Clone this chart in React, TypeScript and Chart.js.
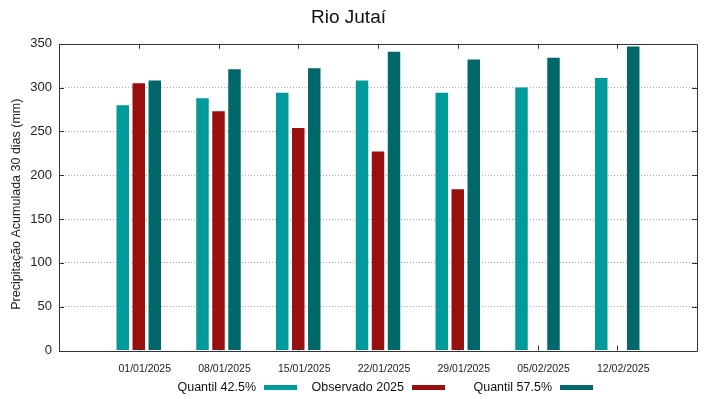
import React, { useEffect, useRef } from "react";
import { Chart, registerables } from "chart.js";

Chart.register(...registerables);

const titleText = "Rio Jutaí";
const yTitle = "Precipitação Acumulada 30 dias (mm)";
const dates = ["01/01/2025", "08/01/2025", "15/01/2025", "22/01/2025", "29/01/2025", "05/02/2025", "12/02/2025"];
const q425 = [280, 288, 294, 308, 294, 300, 311];
const observed: (number | null)[] = [305, 273, 254, 227, 184, null, null];
const q575 = [308, 321, 322, 341, 332, 334, 347];
const yTicks = [0, 50, 100, 150, 200, 250, 300, 350];

const seriesNames = ["Quantil 42.5%", "Observado 2025", "Quantil 57.5%"];
const seriesColors = ["#009a9a", "#990e0e", "#006868"];

const pad = (arr: (number | null)[]) => [null, ...arr, null];

const FONT = "'Liberation Sans', Arial, sans-serif";

const framePlugin = {
  id: "frame",
  afterDraw(chart: any) {
    const { ctx, chartArea } = chart;
    const { left, right, top, bottom } = chartArea;
    const xs = chart.scales.x;
    const ys = chart.scales.y;
    ctx.save();
    ctx.strokeStyle = "#333";
    ctx.lineWidth = 1;
    ctx.beginPath();
    ctx.rect(Math.round(left) + 0.5, Math.round(top) + 0.5, Math.round(right - left), Math.round(bottom - top));
    ctx.stroke();
    const L = 5;
    ctx.beginPath();
    yTicks.forEach((v) => {
      const y = Math.round(ys.getPixelForValue(v)) + 0.5;
      ctx.moveTo(left, y);
      ctx.lineTo(left + L, y);
      ctx.moveTo(right, y);
      ctx.lineTo(right - L, y);
    });
    dates.forEach((_, i) => {
      const x = Math.round(xs.getPixelForValue(i + 1)) + 0.5;
      ctx.moveTo(x, top);
      ctx.lineTo(x, top + L);
      ctx.moveTo(x, bottom);
      ctx.lineTo(x, bottom - L);
    });
    ctx.stroke();

    // y axis title
    ctx.save();
    ctx.translate(17, (top + bottom) / 2 + 7);
    ctx.rotate(-Math.PI / 2);
    ctx.font = `12.5px ${FONT}`;
    ctx.fillStyle = "#222";
    ctx.textAlign = "center";
    ctx.textBaseline = "middle";
    ctx.fillText(yTitle, 0, 0);
    ctx.restore();

    // legend (gnuplot style: text then swatch)
    const cx = (left + right) / 2;
    const ly = 388;
    ctx.font = `12.5px ${FONT}`;
    ctx.textBaseline = "middle";
    ctx.textAlign = "right";
    chart.data.datasets.forEach((ds: any, i: number) => {
      const off = (i - 1) * 148;
      const textRight = cx + 26 + off;
      ctx.fillStyle = "#111";
      ctx.fillText(ds.label, textRight, ly);
      ctx.fillStyle = ds.backgroundColor;
      ctx.fillRect(textRight + 8, ly - 3, 33, 5);
    });
    ctx.restore();
  },
};

export default function App() {
  const ref = useRef<HTMLCanvasElement>(null);
  useEffect(() => {
    document.body.style.margin = "0";
    const labels = ["", ...dates, ""];
    const chart = new Chart(ref.current!, {
      type: "bar",
      data: {
        labels,
        datasets: [
          { label: seriesNames[0], data: pad(q425), backgroundColor: seriesColors[0] },
          { label: seriesNames[1], data: pad(observed), backgroundColor: seriesColors[1] },
          { label: seriesNames[2], data: pad(q575), backgroundColor: seriesColors[2] },
        ],
      },
      options: {
        responsive: false,
        animation: false,
        datasets: { bar: { categoryPercentage: 0.602, barPercentage: 0.78 } },
        layout: { padding: { left: 0, right: 22, top: 0, bottom: 0 } },
        plugins: {
          legend: { display: false },
          tooltip: { enabled: false },
          title: {
            display: true,
            text: titleText,
            font: { family: FONT, size: 19, weight: "normal" },
            color: "#111",
            padding: { top: 6, bottom: 15 },
          },
        },
        scales: {
          x: {
            type: "category",
            offset: false,
            grid: { display: false },
            border: { display: false },
            ticks: {
              font: { family: FONT, size: 10.5 },
              color: "#222",
              padding: 4,
              labelOffset: 6,
              maxRotation: 0,
              autoSkip: false,
            },
            afterFit: (s: any) => {
              s.height = 48.5;
            },
          },
          y: {
            min: 0,
            max: 350,
            grid: {
              drawTicks: false,
              color: (c: any) => (c.tick && (c.tick.value === 0 || c.tick.value === 350) ? "rgba(0,0,0,0)" : "#a8a8a8"),
              lineWidth: 1,
            },
            border: { display: false, dash: [1, 2] },
            ticks: {
              stepSize: 50,
              font: { family: FONT, size: 13 },
              color: "#222",
              padding: 7,
            },
            title: { display: false },
            afterFit: (s: any) => {
              s.width = 59;
            },
          },
        },
      },
      plugins: [framePlugin],
    } as any);
    return () => chart.destroy();
  }, []);
  return <canvas ref={ref} width={719} height={399} style={{ display: "block" }} />;
}
